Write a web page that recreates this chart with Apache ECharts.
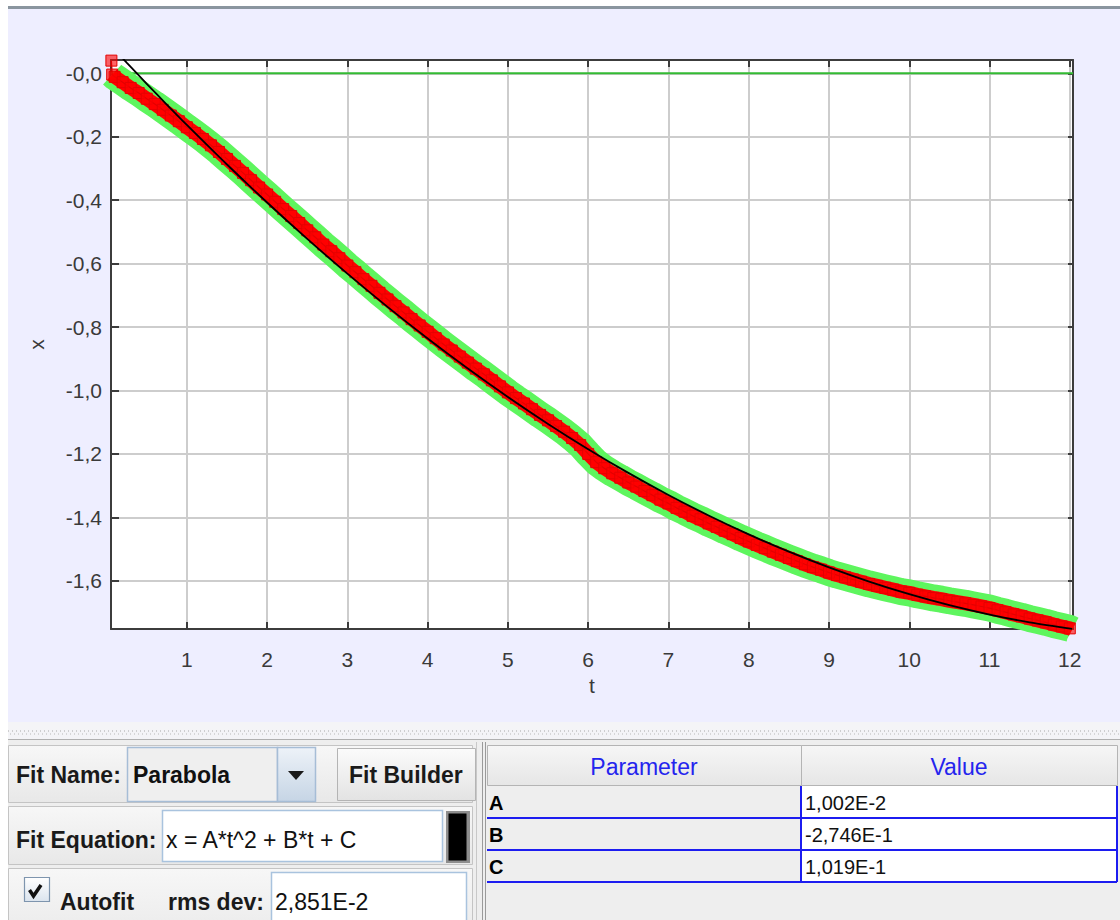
<!DOCTYPE html>
<html><head><meta charset="utf-8">
<script src="https://cdn.jsdelivr.net/npm/echarts@6.0.0/dist/echarts.min.js"></script>
<style>html,body{margin:0;padding:0;background:#fff;} #chart{width:1120px;height:920px;}</style>
</head><body><div id="chart"></div>
<script>
// ---- data ----
const tValues = [0.06, 0.07,
  0.1, 0.2, 0.3, 0.4, 0.5, 0.6, 0.7, 0.8, 0.9, 1.0,
  1.1, 1.2, 1.3, 1.4, 1.5, 1.6, 1.7, 1.8, 1.9, 2.0,
  2.1, 2.2, 2.3, 2.4, 2.5, 2.6, 2.7, 2.8, 2.9, 3.0,
  3.1, 3.2, 3.3, 3.4, 3.5, 3.6, 3.7, 3.8, 3.9, 4.0,
  4.1, 4.2, 4.3, 4.4, 4.5, 4.6, 4.7, 4.8, 4.9, 5.0,
  5.1, 5.2, 5.3, 5.4, 5.5, 5.6, 5.7, 5.8, 5.9, 6.0,
  6.1, 6.2, 6.3, 6.4, 6.5, 6.6, 6.7, 6.8, 6.9, 7.0,
  7.1, 7.2, 7.3, 7.4, 7.5, 7.6, 7.7, 7.8, 7.9, 8.0,
  8.1, 8.2, 8.3, 8.4, 8.5, 8.6, 8.7, 8.8, 8.9, 9.0,
  9.1, 9.2, 9.3, 9.4, 9.5, 9.6, 9.7, 9.8, 9.9, 10.0,
  10.1, 10.2, 10.3, 10.4, 10.5, 10.6, 10.7, 10.8, 10.9, 11.0,
  11.1, 11.2, 11.3, 11.4, 11.5, 11.6, 11.7, 11.8, 11.9, 12.0,
  12.03];
const xValues = [0.040, -0.004,
  -0.011, -0.028, -0.046, -0.062, -0.080, -0.097, -0.115, -0.133, -0.151, -0.170,
  -0.188, -0.207, -0.227, -0.248, -0.270, -0.292, -0.314, -0.337, -0.360, -0.382,
  -0.405, -0.428, -0.450, -0.472, -0.495, -0.517, -0.540, -0.561, -0.583, -0.606,
  -0.627, -0.649, -0.670, -0.692, -0.713, -0.734, -0.754, -0.775, -0.795, -0.815,
  -0.835, -0.855, -0.874, -0.893, -0.912, -0.931, -0.949, -0.968, -0.987, -1.006,
  -1.024, -1.041, -1.059, -1.077, -1.094, -1.112, -1.130, -1.150, -1.172, -1.200,
  -1.226, -1.245, -1.261, -1.275, -1.290, -1.303, -1.317, -1.330, -1.344, -1.356,
  -1.370, -1.382, -1.395, -1.406, -1.419, -1.430, -1.442, -1.453, -1.465, -1.476,
  -1.487, -1.497, -1.508, -1.518, -1.528, -1.538, -1.548, -1.557, -1.565, -1.574,
  -1.582, -1.589, -1.596, -1.603, -1.610, -1.616, -1.622, -1.628, -1.634, -1.638,
  -1.644, -1.649, -1.654, -1.658, -1.663, -1.667, -1.671, -1.676, -1.681, -1.686,
  -1.693, -1.699, -1.706, -1.712, -1.719, -1.725, -1.731, -1.738, -1.744, -1.750,
  -1.754];
// fitted parabola
const fitT = [0.06, 0.25, 0.5, 0.75, 1, 1.5, 2, 2.5, 3, 3.5, 4, 4.5, 5, 5.5, 6, 6.5, 7, 7.5, 8, 8.5, 9, 9.5, 10, 10.5, 11, 11.5, 12.03];
const fitX = [0.0855, 0.0339, -0.0329, -0.0984, -0.1627, -0.2875, -0.4072, -0.5220, -0.6317, -0.7365, -0.8362, -0.9309, -1.0206, -1.1053, -1.1850, -1.2597, -1.3293, -1.3940, -1.4536, -1.5083, -1.5579, -1.6025, -1.6421, -1.6767, -1.7063, -1.7309, -1.7514];
const zeroLineValue = 0;
const tRange = [0.055, 12.04];
const xRange = [-1.752, 0.042];
const paramNames = ['A', 'B', 'C'];
const paramValues = ['1,002E-2', '-2,746E-1', '1,019E-1'];
const tableHeaders = ['Parameter', 'Value'];
const fitName = 'Parabola';
const fitEquation = 'x = A*t^2 + B*t + C';
const rmsDev = '2,851E-2';

// ---- build ----
const dataPairs = tValues.map((t, i) => [t, xValues[i]]);
const bandPairs = dataPairs.slice(1);
const fitPairs = fitT.map((t, i) => [t, fitX[i]]);

const FAM = '"Liberation Sans", Arial, sans-serif';
const UIB = 'bold 23px ' + FAM;
const UIR = '23px ' + FAM;
const TBL = '20px ' + FAM;
const TBLB = 'bold 20px ' + FAM;
const axisColor = '#3c3c3c';

function grad(c1, c2) {
  return {type: 'linear', x: 0, y: 0, x2: 0, y2: 1, colorStops: [{offset: 0, color: c1}, {offset: 1, color: c2}]};
}
function rect(x, y, w, h, fill, stroke, lw, z) {
  return {type: 'rect', silent: true, z: z === undefined ? 1 : z, shape: {x: x, y: y, width: w, height: h},
    style: {fill: fill, stroke: stroke || null, lineWidth: lw || 1}};
}
function txt(x, y, s, font, fill, align) {
  const a = align || 'left';
  return {type: 'text', silent: true, z: 10, x: x, y: y,
    style: {text: s, font: font, fill: fill || '#111', align: a, verticalAlign: 'middle', textAlign: a, textVerticalAlign: 'middle'}};
}
function ln(x1, y1, x2, y2, stroke, lw, dash, z) {
  return {type: 'line', silent: true, z: z === undefined ? 6 : z, shape: {x1: x1, y1: y1, x2: x2, y2: y2},
    style: {stroke: stroke, lineWidth: lw || 1, lineDash: dash || null}};
}

const g = [];
// window / chart panel background
g.push(rect(8, 9, 1112, 713, '#eeeeff', null, 0, -10));
g.push(rect(8, 6, 1112, 3, '#8a959f', null, 0, -9));
// splitter
g.push(rect(8, 722, 1112, 18, '#f4f4f7', null, 0, -9));
g.push(ln(8, 731, 1120, 731, '#a8a8a8', 1, [1, 3], 2));
g.push(ln(10, 734, 1120, 734, '#b8b8b8', 1, [1, 3], 2));
g.push(ln(8, 739.5, 1120, 739.5, '#b0b0b0', 1, null, 2));
// bottom panel background
g.push(rect(8, 740, 1112, 180, '#eeeeee', null, 0, -9));

// left panel rows
g.push(rect(8.5, 745.5, 464, 57, grad('#f7f7f7', '#e8e8e8'), '#c4c4c4', 1, 1));
g.push(rect(8.5, 806.5, 464, 58, grad('#f7f7f7', '#e8e8e8'), '#c4c4c4', 1, 1));
g.push(rect(8.5, 868.5, 464, 60, grad('#f7f7f7', '#ececec'), '#c4c4c4', 1, 1));
// row 1
g.push(txt(16, 775, 'Fit Name:', UIB, '#1a1a1a'));
g.push(rect(127.5, 747.5, 150, 54, '#efefef', '#a6bdd6', 1.5, 2));
g.push(rect(277.5, 747.5, 38, 54, grad('#edf2f8', '#c6d5e5'), '#a6bdd6', 1.5, 2));
g.push({type: 'polygon', silent: true, z: 5, shape: {points: [[288, 771], [304, 771], [296, 780]]}, style: {fill: '#1a1a1a'}});
g.push(txt(133, 775, fitName, UIB, '#111'));
g.push(rect(337.5, 748.5, 138, 52, grad('#fbfbfb', '#e3e3e3'), '#b4b4b4', 1, 2));
g.push(txt(349, 775, 'Fit Builder', UIB, '#1a1a1a'));
// row 2
g.push(txt(16, 840, 'Fit Equation:', UIB, '#1a1a1a'));
g.push(rect(162.5, 810.5, 280, 51, '#ffffff', '#a9c3de', 1.5, 2));
g.push(txt(166, 840, fitEquation, UIR, '#111'));
g.push(rect(446, 811, 24, 52, '#8e8e8e', null, 0, 2));
g.push(rect(448.5, 813.5, 18, 47, '#000000', null, 0, 3));
// row 3
g.push(rect(24.5, 877.5, 25, 24, grad('#ffffff', '#dbe4ee'), '#7e95ae', 1.2, 3));
g.push({type: 'polyline', silent: true, z: 5, shape: {points: [[29.5, 890], [33.5, 896], [41, 885]]}, style: {stroke: '#111', lineWidth: 3.5, fill: null}});
g.push(txt(60, 902, 'Autofit', UIB, '#1a1a1a'));
g.push(txt(168, 902, 'rms dev:', UIB, '#1a1a1a'));
g.push(rect(271.5, 872.5, 195, 60, '#ffffff', '#a9c3de', 1.5, 2));
g.push(txt(275, 902, rmsDev, UIR, '#111'));

// panel divider
g.push(ln(476.5, 742, 476.5, 920, '#c8c8c8', 1, null, 2));
g.push(ln(482.5, 742, 482.5, 920, '#9a9a9a', 1, null, 2));
g.push(ln(485.5, 742, 485.5, 920, '#9a9a9a', 1, null, 2));

// parameter table
const colX = [487, 801, 1117];
const headTop = 745, headH = 40, rowH = 32;
for (let c = 0; c < 2; c++) {
  g.push(rect(colX[c] + 0.5, headTop + 0.5, colX[c + 1] - colX[c], headH, grad('#f6f6f6', '#e6e6e6'), '#b4b4b4', 1, 2));
  g.push(txt((colX[c] + colX[c + 1]) / 2, headTop + headH / 2 + 2, tableHeaders[c], '23px ' + FAM, '#2424ee', 'center'));
}
for (let r = 0; r < paramNames.length; r++) {
  const y0 = headTop + headH + 1 + r * rowH;
  g.push(rect(colX[0], y0, colX[1] - colX[0], rowH, '#eeeeee', null, 0, 2));
  g.push(rect(colX[1], y0, colX[2] - colX[1], rowH, '#ffffff', null, 0, 2));
  g.push(ln(colX[0], y0 + rowH, colX[2], y0 + rowH, '#1c1cf0', 2, null, 4));
  g.push(ln(colX[1], y0, colX[1], y0 + rowH, '#1c1cf0', 2, null, 4));
  g.push(ln(colX[2], y0, colX[2], y0 + rowH, '#1c1cf0', 2, null, 4));
  g.push(txt(colX[0] + 2, y0 + rowH / 2 + 1, paramNames[r], TBLB, '#000'));
  g.push(txt(colX[1] + 4, y0 + rowH / 2 + 1, paramValues[r], TBL, '#111'));
}

const axisLineStyle = {color: axisColor, width: 2};
const tickStyle = {color: axisColor, width: 2};
const yFmt = v => (Math.abs(v) < 1e-9 ? '-0,0' : v.toFixed(1).replace('.', ','));

const option = {
  animation: false,
  backgroundColor: '#ffffff',
  graphic: {elements: g},
  grid: {left: 111, top: 60, width: 962, height: 569, show: true, backgroundColor: '#ffffff', borderWidth: 0},
  xAxis: [
    {type: 'value', min: tRange[0], max: tRange[1], splitNumber: 12, position: 'bottom',
      name: 't', nameLocation: 'middle', nameGap: 46,
      nameTextStyle: {color: '#3a3a3a', fontSize: 21, fontFamily: FAM},
      axisLine: {show: true, onZero: false, lineStyle: axisLineStyle},
      axisTick: {show: true, inside: true, length: 7, lineStyle: tickStyle},
      axisLabel: {margin: 20, showMinLabel: false, showMaxLabel: false, fontSize: 21, color: '#3a3a3a', fontFamily: FAM},
      splitLine: {show: true, lineStyle: {color: '#cdcdcd', width: 2}}},
    {type: 'value', min: tRange[0], max: tRange[1], splitNumber: 12, position: 'top',
      axisLine: {show: true, onZero: false, lineStyle: axisLineStyle},
      axisTick: {show: true, inside: true, length: 7, lineStyle: tickStyle},
      axisLabel: {show: false}, splitLine: {show: false}}
  ],
  yAxis: [
    {type: 'value', min: xRange[0], max: xRange[1], splitNumber: 9, position: 'left',
      name: 'x', nameLocation: 'middle', nameGap: 64, nameRotate: 90,
      nameTextStyle: {color: '#3a3a3a', fontSize: 21, fontFamily: FAM},
      axisLine: {show: true, onZero: false, lineStyle: axisLineStyle},
      axisTick: {show: true, inside: true, length: 8, lineStyle: tickStyle},
      axisLabel: {margin: 9, showMinLabel: false, showMaxLabel: false, fontSize: 21, color: '#3a3a3a', fontFamily: FAM, formatter: yFmt},
      splitLine: {show: true, lineStyle: {color: '#cdcdcd', width: 2}}},
    {type: 'value', min: xRange[0], max: xRange[1], splitNumber: 9, position: 'right',
      axisLine: {show: true, onZero: false, lineStyle: axisLineStyle},
      axisTick: {show: true, inside: true, length: 5, lineStyle: tickStyle},
      axisLabel: {show: false}, splitLine: {show: false}}
  ],
  series: [
    {type: 'line', name: 'zero', data: [[tRange[0], zeroLineValue], [tRange[1], zeroLineValue]],
      symbol: 'none', silent: true, z: 1, lineStyle: {color: '#33bb33', width: 2}},
    {type: 'line', name: 'highlight', data: bandPairs, symbol: 'none', silent: true, z: 2,
      lineStyle: {color: '#5ef55e', width: 27, cap: 'butt', join: 'round'}},
    {type: 'line', name: 'band', data: bandPairs, symbol: 'none', silent: true, z: 3,
      lineStyle: {color: '#ff0000', width: 14, cap: 'butt', join: 'round'}},
    {type: 'line', name: 'x', data: dataPairs, symbol: 'rect', symbolSize: 11, showSymbol: true, showAllSymbol: true,
      silent: true, z: 4,
      itemStyle: {color: 'rgba(255,0,0,0.6)', borderColor: '#e40000', borderWidth: 1},
      lineStyle: {color: '#b80000', width: 1.2}},
    {type: 'line', name: 'fit', data: fitPairs, smooth: 0.3, symbol: 'none', silent: true, z: 5,
      lineStyle: {color: '#000000', width: 1.8}}
  ]
};
const chart = echarts.init(document.getElementById('chart'), null, {renderer: 'svg'});
chart.setOption(option);
</script>
</body></html>
